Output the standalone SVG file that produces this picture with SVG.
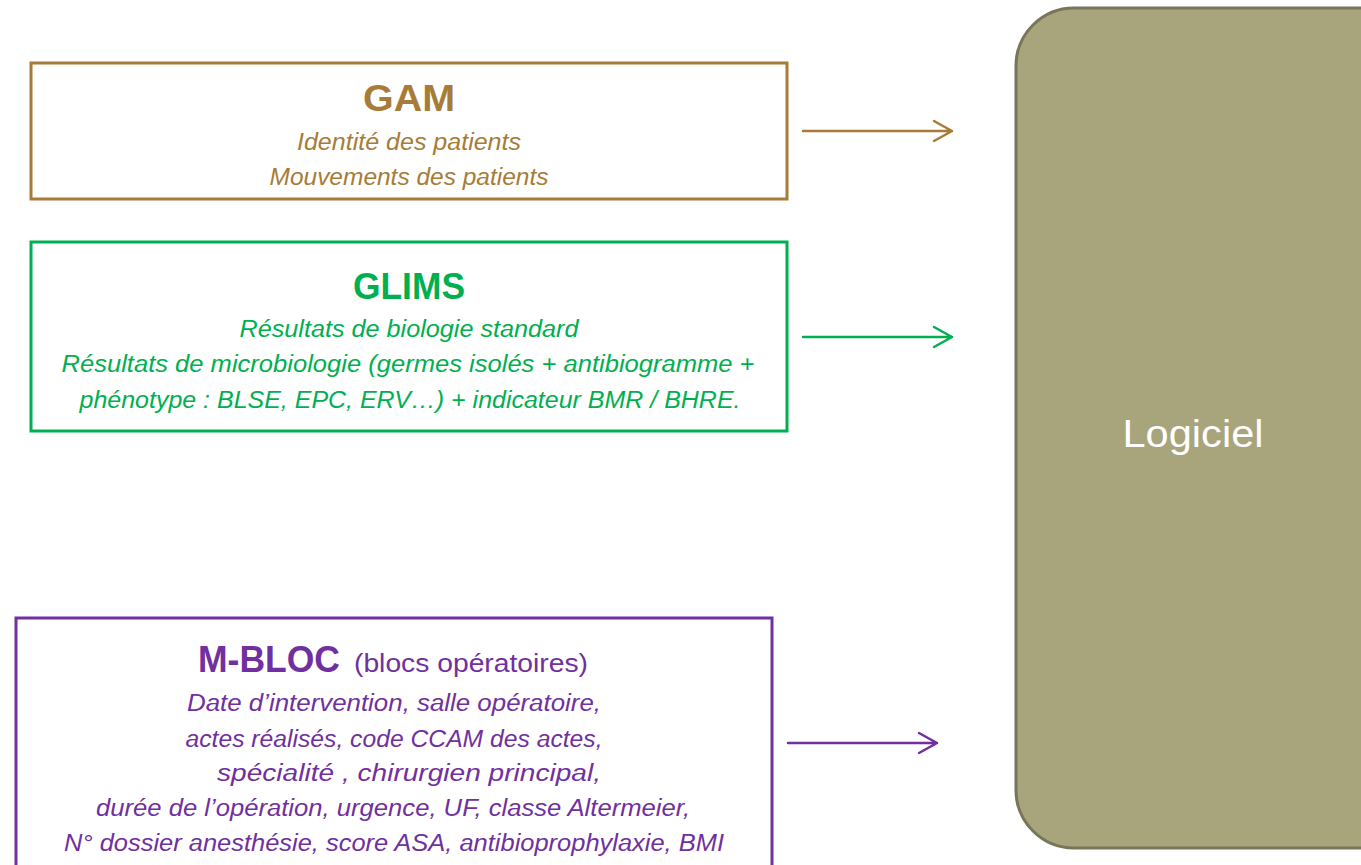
<svg xmlns="http://www.w3.org/2000/svg" width="1361" height="865" viewBox="0 0 1361 865">
<style>
  .box { fill: #ffffff; stroke-width: 3; }
  .t { font-family: "Liberation Sans", Arial, sans-serif; text-anchor: middle; }
  .s { font-family: "Liberation Sans", Arial, sans-serif; text-anchor: start; }
  .title { font-size: 36px; font-weight: bold; }
  .line { font-size: 23px; font-style: italic; }
  .gam { fill: #A67C37; }
  .glims { fill: #00B050; }
  .mbloc { fill: #7030A0; }
  .conn { fill: none; stroke-width: 2.5; stroke-linecap: round; stroke-linejoin: round; }
</style>
<rect width="1361" height="865" fill="#ffffff"/>

<g id="gam">
  <rect class="box" x="31" y="63" width="756" height="136" stroke="#A67C37"/>
  <text class="t title gam" x="409" y="111" textLength="92" lengthAdjust="spacingAndGlyphs">GAM</text>
  <text class="t line gam" x="409" y="150" textLength="224" lengthAdjust="spacingAndGlyphs">Identité des patients</text>
  <text class="t line gam" x="409" y="185" textLength="279" lengthAdjust="spacingAndGlyphs">Mouvements des patients</text>
</g>

<g id="glims">
  <rect class="box" x="31" y="242" width="756" height="189" stroke="#00B050"/>
  <text class="t title glims" x="409" y="299" textLength="112" lengthAdjust="spacingAndGlyphs">GLIMS</text>
  <text class="t line glims" x="409" y="337" textLength="339" lengthAdjust="spacingAndGlyphs">Résultats de biologie standard</text>
  <text class="t line glims" x="408" y="372" textLength="693" lengthAdjust="spacingAndGlyphs">Résultats de microbiologie (germes isolés + antibiogramme +</text>
  <text class="t line glims" x="410" y="408" textLength="661" lengthAdjust="spacingAndGlyphs">phénotype : BLSE, EPC, ERV…) + indicateur BMR / BHRE.</text>
</g>

<g id="mbloc">
  <rect class="box" x="16" y="618" width="756" height="260" stroke="#7030A0"/>
  <text class="s mbloc" x="198" y="672" font-size="37" font-weight="bold" textLength="142" lengthAdjust="spacingAndGlyphs">M-BLOC</text>
  <text class="s mbloc" x="354" y="672" font-size="26" textLength="234" lengthAdjust="spacingAndGlyphs">(blocs opératoires)</text>
  <text class="t line mbloc" x="394" y="711" textLength="414" lengthAdjust="spacingAndGlyphs">Date d’intervention, salle opératoire,</text>
  <text class="t line mbloc" x="394" y="747" textLength="417" lengthAdjust="spacingAndGlyphs">actes réalisés, code CCAM des actes,</text>
  <text class="t line mbloc" x="409" y="781" textLength="384" lengthAdjust="spacingAndGlyphs">spécialité , chirurgien principal,</text>
  <text class="t line mbloc" x="393" y="816" textLength="594" lengthAdjust="spacingAndGlyphs">durée de l’opération, urgence, UF, classe Altermeier,</text>
  <text class="t line mbloc" x="394" y="851" textLength="660" lengthAdjust="spacingAndGlyphs">N° dossier anesthésie, score ASA, antibioprophylaxie, BMI</text>
</g>

<g id="logiciel">
  <rect x="1016" y="8" width="400" height="840" rx="58" ry="58" fill="#A8A47C" stroke="#77755A" stroke-width="3"/>
  <text class="t" x="1193" y="447" font-size="38" fill="#ffffff" textLength="141" lengthAdjust="spacingAndGlyphs">Logiciel</text>
</g>

<g id="connectors">
  <path class="conn" stroke="#A67C37" d="M803 131 H952 M934 121 L952 131 L934 141"/>
  <path class="conn" stroke="#00B050" d="M803 337 H952 M934 327 L952 337 L934 347"/>
  <path class="conn" stroke="#7030A0" d="M788 743 H937 M919 733 L937 743 L919 753"/>
</g>
</svg>
